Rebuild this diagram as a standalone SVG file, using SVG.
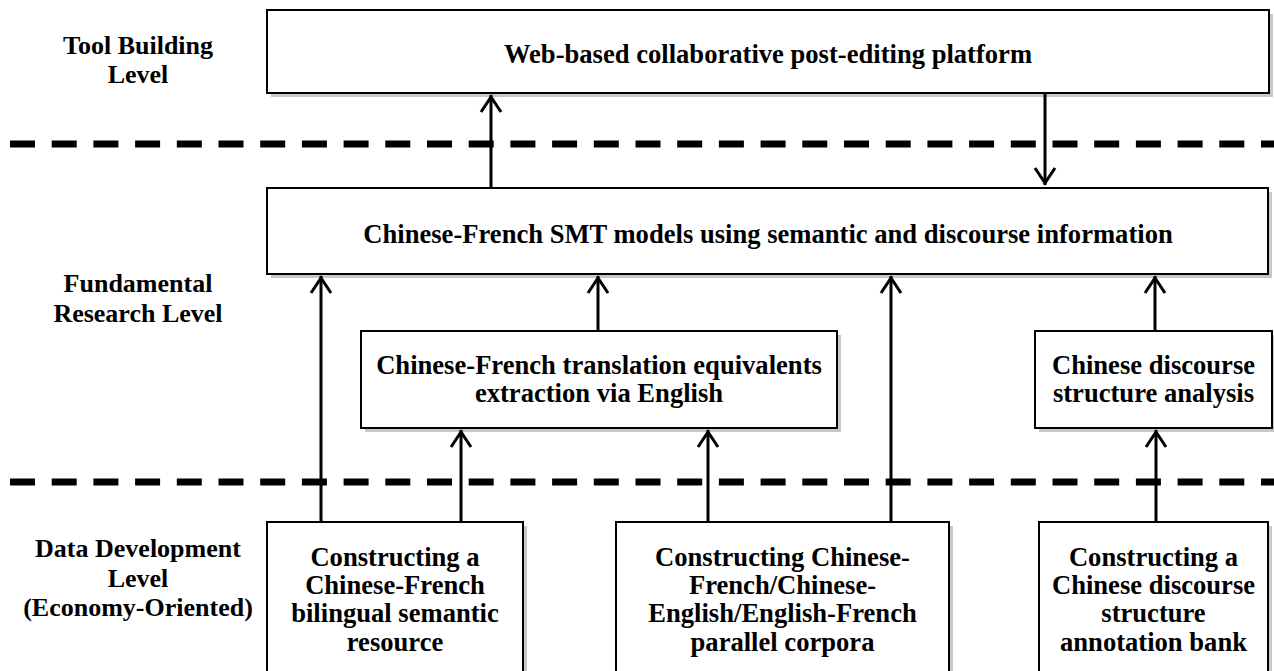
<svg xmlns="http://www.w3.org/2000/svg" width="1274" height="671" viewBox="0 0 1274 671">
<style>
.box{fill:#fff;stroke:#000;stroke-width:2}
.shadow{fill:#c8c8c8;stroke:none}
.t{font-family:"Liberation Serif","Times New Roman",serif;font-weight:bold;font-size:26.6px;text-anchor:middle;fill:#000}
.lbl{font-family:"Liberation Serif","Times New Roman",serif;font-weight:bold;font-size:26px;text-anchor:middle;fill:#000}
.dash{stroke:#000;stroke-width:7;stroke-dasharray:25 16.7;fill:none}
.arr{stroke:#000;stroke-width:3;fill:none;marker-end:url(#ah)}
</style>
<defs>
<marker id="ah" markerUnits="userSpaceOnUse" markerWidth="30" markerHeight="30" viewBox="-25 -15 30 30" refX="0" refY="0" orient="auto" overflow="visible">
<path d="M -17 -10 L -2 0 L -17 10" fill="none" stroke="#000" stroke-width="3"/>
</marker>
</defs>
<rect width="1274" height="671" fill="#fff"/>

<g id="levels">
<text class="lbl" x="138" y="54">Tool Building</text>
<text class="lbl" x="138" y="83">Level</text>
<text class="lbl" x="138" y="292">Fundamental</text>
<text class="lbl" x="138" y="322">Research Level</text>
<text class="lbl" x="138" y="557">Data Development</text>
<text class="lbl" x="138" y="587">Level</text>
<text class="lbl" x="138" y="616">(Economy-Oriented)</text>
</g>

<g id="separators">
<line class="dash" x1="10" y1="144" x2="1274" y2="144"/>
<line class="dash" x1="10" y1="482" x2="1274" y2="482"/>
</g>

<g id="node-platform">
<rect class="shadow" x="271" y="14" width="1002" height="83"/>
<rect class="box" x="267" y="10" width="1002" height="83"/>
<text class="t" x="768" y="63">Web-based collaborative post-editing platform</text>
</g>

<g id="node-smt">
<rect class="shadow" x="271" y="192" width="1001" height="86"/>
<rect class="box" x="267" y="188" width="1001" height="86"/>
<text class="t" x="768" y="243">Chinese-French SMT models using semantic and discourse information</text>
</g>

<g id="node-translation">
<rect class="shadow" x="365" y="335" width="476" height="97"/>
<rect class="box" x="361" y="331" width="476" height="97"/>
<text class="t" x="599" y="374">Chinese-French translation equivalents</text>
<text class="t" x="599" y="402">extraction via English</text>
</g>

<g id="node-discourse">
<rect class="shadow" x="1039" y="335" width="237" height="97"/>
<rect class="box" x="1035" y="331" width="237" height="97"/>
<text class="t" x="1153.5" y="374">Chinese discourse</text>
<text class="t" x="1153.5" y="402">structure analysis</text>
</g>

<g id="node-semantic-resource">
<rect class="shadow" x="271" y="526" width="256" height="160"/>
<rect class="box" x="267" y="522" width="256" height="160"/>
<text class="t" x="395" y="566">Constructing a</text>
<text class="t" x="395" y="594">Chinese-French</text>
<text class="t" x="395" y="622">bilingual semantic</text>
<text class="t" x="395" y="651">resource</text>
</g>

<g id="node-parallel-corpora">
<rect class="shadow" x="620" y="526" width="333" height="160"/>
<rect class="box" x="616" y="522" width="333" height="160"/>
<text class="t" x="782.5" y="566">Constructing Chinese-</text>
<text class="t" x="782.5" y="594">French/Chinese-</text>
<text class="t" x="782.5" y="622">English/English-French</text>
<text class="t" x="782.5" y="651">parallel corpora</text>
</g>

<g id="node-annotation-bank">
<rect class="shadow" x="1043" y="526" width="229" height="160"/>
<rect class="box" x="1039" y="522" width="229" height="160"/>
<text class="t" x="1153.5" y="566">Constructing a</text>
<text class="t" x="1153.5" y="594">Chinese discourse</text>
<text class="t" x="1153.5" y="622">structure</text>
<text class="t" x="1153.5" y="651">annotation bank</text>
</g>

<g id="connectors">
<line class="arr" x1="491" y1="187" x2="491" y2="95"/>
<line class="arr" x1="1045" y1="94" x2="1045" y2="185"/>
<line class="arr" x1="321" y1="521" x2="321" y2="276"/>
<line class="arr" x1="598" y1="330" x2="598" y2="276"/>
<line class="arr" x1="891" y1="521" x2="891" y2="276"/>
<line class="arr" x1="1155" y1="330" x2="1155" y2="276"/>
<line class="arr" x1="461" y1="521" x2="461" y2="430"/>
<line class="arr" x1="708" y1="521" x2="708" y2="430"/>
<line class="arr" x1="1156" y1="521" x2="1156" y2="430"/>
</g>
</svg>
